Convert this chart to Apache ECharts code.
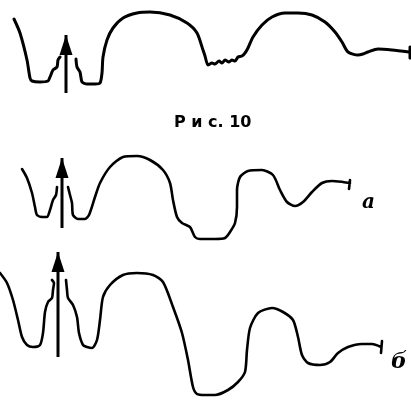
<!DOCTYPE html>
<html><head><meta charset="utf-8">
<script src="https://cdn.jsdelivr.net/npm/echarts@6/dist/echarts.min.js"></script>
<style>html,body{margin:0;padding:0;background:#fff}#c{width:411px;height:400px}</style>
</head><body><div id="c"></div>
<script>
// Trace of the top curve (x position, signal level), null = break
var topCurve = [[14,19],[20,33],[27,60],[30,78],[32,81],[40,82],[48,81],[50,77],[53,70],[57,67],[58,60],[60,57],null,
  [76,59],[77,67],[80,72],[82,82],[87,84],[95,84],[100,83],[102,73],[103,57],[107,40],[113,28],[123,18],[137,13],[150,12],[170,15],[187,23],[197,33],[203,50],
  [205,56],[208,65],[212,63],[215,64],[219,61],[222,63],[225,60],[229,62],[232,60],[235,61],[238,57],[242,56],[245,53],[248,48],[253,37],[262,25],[272,17],[285,13],[298,13],[312,15],[325,22],[335,32],[342,42],[348,52],[358,55],[363,54],[368,52],[378,49],[392,50],[409,52],null,
  [410,47],[410,58]];
// Curve "а"
var curveA = [[22,169],[27,178],[32,193],[35,207],[37,215],[43,217],[47,217],[50,210],[53,200],[56,195],[57,187],null,
  [68,187],[70,195],[72,203],[73,215],[78,219],[85,219],[89,215],[95,197],[100,183],[110,167],[123,157],[137,156],[150,160],[163,170],[170,183],[173,200],[177,217],[182,223],[190,227],[195,237],[200,239],[205,239],
  [215,239],[225,238],[230,232],[235,223],[237,207],[237,190],[240,177],[248,171],[262,170],[273,175],[280,190],[287,202],[295,206],[303,202],[312,192],[322,183],[332,181],[343,182],[350,183],null,
  [350,180],[349,189]];
// Curve "б"
var curveB = [[0,273],[7,283],[13,300],[18,320],[22,337],[27,345],[33,347],[40,345],[43,333],[45,312],[48,302],[52,298],[53,290],[54,283],[52,280],null,
  [66,280],[67,290],[68,298],[73,305],[77,317],[79,333],[83,345],[87,347],[92,348],[97,340],[100,320],[103,297],[110,285],[123,275],[137,273],[153,275],[163,282],[173,307],[182,333],[188,360],[193,387],[197,394],[205,395],
  [215,395],[228,390],[238,382],[245,372],[247,350],[250,328],[258,313],[272,308],[283,312],[293,320],[298,337],[302,355],[308,363],[320,365],[330,362],[338,353],[348,347],[362,344],[372,344],[381,347],null,
  [382,341],[381,353]];
// Arrows: [base, tip]
var arrows = [[[66,93],[66,35]],[[62,228],[62,158]],[[58,357],[58,252]]];
var caption = 'Р и с. 10';
var labelA = 'а';
var labelB = 'б';

var chart = echarts.init(document.getElementById('c'));
function lineSeries(d, w){
  return {type:'line', data:d, symbol:'none', smooth:0.25, connectNulls:false,
    lineStyle:{color:'#000', width:w, cap:'round', join:'round'}, silent:true, animation:false};
}
function arrowSeries(a){
  return {type:'line', silent:true, animation:false, showSymbol:true,
    lineStyle:{color:'#000', width:3},
    itemStyle:{color:'#000'},
    data:[{value:a[0], symbol:'none'},
          {value:a[1], symbol:'triangle', symbolSize:[13,20], symbolOffset:[0,'50%']}]};
}
chart.setOption({
  animation:false,
  grid:{left:0,right:0,top:0,bottom:0},
  xAxis:{type:'value',min:0,max:411,show:false},
  yAxis:{type:'value',min:0,max:400,inverse:true,show:false},
  title:[
    {text:caption,left:169,top:110,textStyle:{fontFamily:'DejaVu Sans',fontWeight:'bold',fontSize:16,color:'#000'}},
    {text:labelA,left:357,top:188,textStyle:{fontFamily:'DejaVu Serif',fontStyle:'italic',fontWeight:'bold',fontSize:20,color:'#000'}},
    {text:labelB,left:386,top:346,textStyle:{fontFamily:'DejaVu Serif',fontStyle:'italic',fontWeight:'bold',fontSize:22,color:'#000'}}
  ],
  series:[
    lineSeries(topCurve,3),
    lineSeries(curveA,2.6),
    lineSeries(curveB,2.6)
  ].concat(arrows.map(arrowSeries))
});
</script></body></html>
